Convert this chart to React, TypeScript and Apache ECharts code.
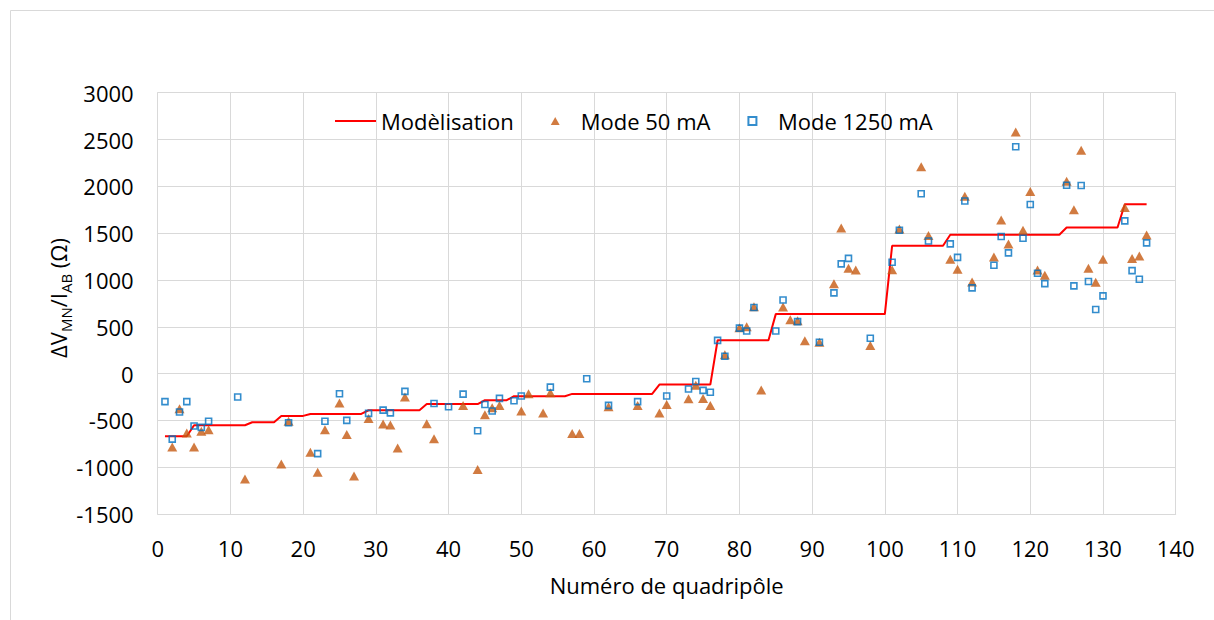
import React, { useEffect, useRef } from 'react';
import * as echarts from 'echarts';

// Modélisation (step-like model line)
const modelX = [1, 4, 5, 12, 13, 16, 17, 20, 21, 28, 29, 36, 37, 44, 45, 48, 49, 56, 57, 68, 69, 76, 77, 84, 85, 100, 101, 108, 109, 124, 125, 132, 133, 136];
const modelY = [-670, -670, -552, -552, -520, -520, -452, -452, -431, -431, -392, -392, -326, -326, -285, -285, -242, -242, -217, -217, -118, -118, 356, 356, 635, 635, 1365, 1365, 1482, 1482, 1560, 1560, 1809, 1809];

// Mode 50 mA (triangles)
const mode50X = [2, 3, 4, 5, 6, 7, 12, 17, 18, 21, 22, 23, 25, 26, 27, 29, 31, 32, 33, 34, 37, 38, 42, 44, 45, 46, 47, 50, 51, 53, 54, 57, 58, 62, 66, 69, 70, 73, 74, 75, 76, 78, 80, 81, 82, 83, 86, 87, 88, 89, 91, 93, 94, 95, 96, 98, 101, 102, 105, 106, 109, 110, 111, 112, 115, 116, 117, 118, 119, 120, 121, 122, 125, 126, 127, 128, 129, 130, 133, 134, 135, 136];
const mode50Y = [-785, -375, -635, -785, -615, -600, -1125, -965, -510, -840, -1055, -600, -315, -650, -1095, -480, -540, -550, -795, -250, -535, -695, -340, -1025, -440, -365, -340, -400, -215, -420, -205, -640, -640, -355, -340, -420, -330, -270, -125, -265, -340, 200, 490, 500, 715, -175, 710, 575, 565, 350, 335, 960, 1555, 1125, 1105, 300, 1110, 1545, 2210, 1475, 1220, 1115, 1895, 978, 1245, 1640, 1385, 2580, 1530, 1945, 1105, 1050, 2055, 1750, 2385, 1125, 975, 1220, 1775, 1230, 1255, 1480];

// Mode 1250 mA (hollow squares)
const mode1250X = [1, 2, 3, 4, 5, 6, 7, 11, 18, 22, 23, 25, 26, 29, 31, 32, 34, 38, 40, 42, 44, 45, 46, 47, 49, 50, 54, 59, 62, 66, 70, 73, 74, 75, 76, 77, 78, 80, 81, 82, 85, 86, 88, 91, 93, 94, 95, 98, 101, 102, 105, 106, 109, 110, 111, 112, 115, 116, 117, 118, 119, 120, 121, 122, 125, 126, 127, 128, 129, 130, 133, 134, 135, 136];
const mode1250Y = [-300, -700, -410, -300, -560, -575, -510, -250, -525, -855, -510, -215, -500, -425, -390, -420, -190, -320, -355, -220, -610, -330, -400, -265, -290, -240, -145, -55, -340, -300, -240, -165, -85, -180, -200, 355, 185, 485, 455, 705, 455, 785, 555, 335, 862, 1172, 1230, 377, 1189, 1531, 1920, 1416, 1385, 1241, 1843, 915, 1157, 1464, 1289, 2422, 1446, 1806, 1072, 961, 2012, 937, 2009, 983, 684, 830, 1631, 1100, 1007, 1396];

const seriesNames = ['Modèlisation', 'Mode 50 mA', 'Mode 1250 mA'];
const xAxisTitle = 'Numéro de quadripôle';

const FONT = '"Open Sans", sans-serif';
const GRID = '#d9d9d9';

const pairs = (xs: number[], ys: number[]) => xs.map((x, i) => [x, ys[i]]);

export default function App() {
  const ref = useRef<HTMLDivElement>(null);
  useEffect(() => {
    const chart = echarts.init(ref.current!, null, { renderer: 'svg' });
    chart.setOption({
      animation: false,
      backgroundColor: '#ffffff',
      textStyle: { fontFamily: FONT },
      grid: {
        left: 157.7,
        right: 38.3,
        top: 92.7,
        bottom: 106,
        containLabel: false,
        outerBoundsMode: 'none',
      },
      legend: {
        left: 335,
        top: 109,
        padding: 0,
        itemWidth: 41,
        itemHeight: 8,
        itemGap: 37,
        symbolKeepAspect: true,
        textStyle: { fontFamily: FONT, fontSize: 22, color: '#000', lineHeight: 24 },
        data: [
          { name: seriesNames[0], icon: 'path://M0,0L41,0L41,2L0,2Z' },
          { name: seriesNames[1], icon: 'path://M5,0L10,9L0,9Z' },
          { name: seriesNames[2], icon: 'path://M0,0L6,0L6,6L0,6Z' },
        ],
      },
      xAxis: {
        type: 'value',
        min: 0,
        max: 140,
        interval: 10,
        name: xAxisTitle,
        nameLocation: 'middle',
        nameGap: 60,
        nameTextStyle: { fontFamily: FONT, fontSize: 22, color: '#000' },
        axisLine: { show: true, onZero: false, lineStyle: { color: GRID, width: 1 } },
        axisTick: { show: false },
        axisLabel: { margin: 23, fontFamily: FONT, fontSize: 22, color: '#000', formatter: (v: number) => String(v) },
        splitLine: { show: true, lineStyle: { color: GRID, width: 1 } },
      },
      yAxis: {
        type: 'value',
        min: -1500,
        max: 3000,
        interval: 500,
        axisLine: { show: true, onZero: false, lineStyle: { color: GRID, width: 1 } },
        axisTick: { show: false },
        axisLabel: { margin: 24, fontFamily: FONT, fontSize: 22, color: '#000', formatter: (v: number) => String(v) },
        splitLine: { show: true, lineStyle: { color: GRID, width: 1 } },
      },
      graphic: [
        {
          type: 'rect',
          silent: true,
          shape: { x: 10.5, y: 10.5, width: 1400, height: 800 },
          style: { fill: 'none', stroke: GRID, lineWidth: 1 },
          z: -10,
        },
        {
          type: 'text',
          x: 58,
          y: 298,
          rotation: Math.PI / 2,
          silent: true,
          style: {
            text: '{a|ΔV}{b|MN}{a|/I}{b|AB}{a| (Ω)}',
            align: 'center',
            verticalAlign: 'middle',
            fill: '#000',
            rich: {
              a: { fontFamily: FONT, fontSize: 22, lineHeight: 30, fill: '#000', verticalAlign: 'middle' },
              b: { fontFamily: FONT, fontSize: 15, lineHeight: 15, fill: '#000', verticalAlign: 'bottom' },
            },
          },
        },
      ],
      series: [
        {
          name: seriesNames[0],
          type: 'line',
          data: pairs(modelX, modelY),
          symbol: 'none',
          showSymbol: false,
          lineStyle: { color: '#ff0000', width: 2 },
          itemStyle: { color: '#ff0000' },
          z: 2,
        },
        {
          name: seriesNames[1],
          type: 'scatter',
          data: pairs(mode50X, mode50Y),
          symbol: 'triangle',
          symbolSize: [10, 9],
          itemStyle: { color: '#c55a11' },
          z: 3,
        },
        {
          name: seriesNames[2],
          type: 'scatter',
          data: pairs(mode1250X, mode1250Y),
          symbol: 'rect',
          symbolSize: 6,
          itemStyle: { color: 'rgba(255,255,255,0)', borderColor: '#0070c0', borderWidth: 1.6 },
          z: 4,
        },
      ],
    });
    return () => chart.dispose();
  }, []);
  return (
    <div
      ref={ref}
      style={{ position: 'fixed', left: 0, top: 0, width: 1214, height: 620, background: '#fff' }}
    />
  );
}
